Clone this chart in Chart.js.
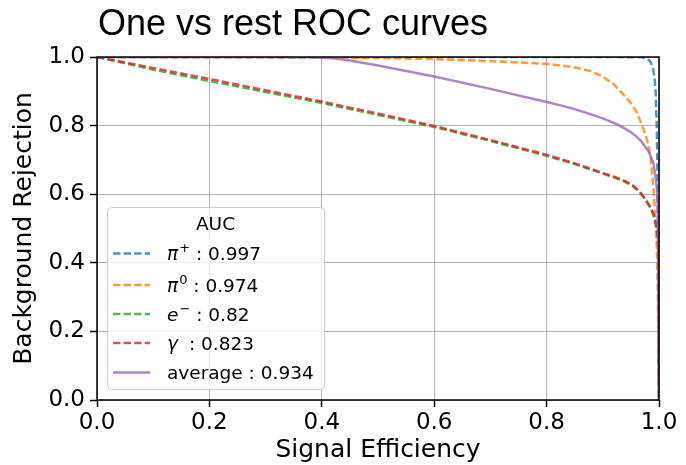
<!DOCTYPE html>
<html>
<head>
<meta charset="utf-8">
<script src="https://cdn.jsdelivr.net/npm/chart.js@4.4.1/dist/chart.umd.min.js"></script>
<style>
  body { margin: 0; background: #fff; }
  canvas { display: block; }
</style>
</head>
<body>
<canvas id="rocChart" width="686" height="465"></canvas>
<script>
// values
const chartTitle = 'One vs rest ROC curves';
const xTitle = 'Signal Efficiency';
const yTitle = 'Background Rejection';
const tickValues = [0, 0.2, 0.4, 0.6, 0.8, 1.0];

const piPlusX = [0, 0.5, 0.9, 0.97, 0.98, 0.985, 0.989, 0.992, 0.994, 0.996, 0.997, 0.998, 0.999, 1.0];
const piPlusY = [1, 1, 1, 0.999, 0.995, 0.985, 0.97, 0.94, 0.90, 0.80, 0.70, 0.50, 0.25, 0];

const piZeroX = [0, 0.3, 0.44, 0.5, 0.6, 0.7, 0.8, 0.85, 0.88, 0.9, 0.92, 0.94, 0.95, 0.96, 0.97, 0.975, 0.98, 0.985, 0.99, 0.993, 0.996, 0.998, 1.0];
const piZeroY = [1, 0.999, 0.998, 0.997, 0.994, 0.988, 0.980, 0.970, 0.958, 0.943, 0.92, 0.885, 0.865, 0.84, 0.80, 0.778, 0.75, 0.71, 0.62, 0.55, 0.45, 0.30, 0];

const electronX = [0, 0.1, 0.2, 0.3, 0.4, 0.5, 0.6, 0.7, 0.8, 0.85, 0.9, 0.92, 0.94, 0.955, 0.966, 0.975, 0.984, 0.99, 0.995, 0.998, 0.9995, 1.0];
const electronY = [1, 0.963, 0.930, 0.898, 0.866, 0.831, 0.796, 0.755, 0.712, 0.688, 0.660, 0.649, 0.636, 0.622, 0.605, 0.586, 0.562, 0.541, 0.508, 0.474, 0.40, 0];

const gammaX = [0, 0.1, 0.2, 0.3, 0.4, 0.5, 0.6, 0.7, 0.8, 0.85, 0.9, 0.92, 0.94, 0.955, 0.966, 0.975, 0.984, 0.99, 0.995, 0.998, 0.9995, 1.0];
const gammaY = [1, 0.968, 0.936, 0.903, 0.870, 0.835, 0.799, 0.758, 0.715, 0.690, 0.662, 0.651, 0.638, 0.624, 0.607, 0.588, 0.564, 0.543, 0.510, 0.476, 0.40, 0];

const averageX = [0, 0.3, 0.38, 0.42, 0.45, 0.5, 0.55, 0.6, 0.7, 0.8, 0.825, 0.85, 0.875, 0.9, 0.925, 0.95, 0.96, 0.97, 0.98, 0.985, 0.99, 0.994, 0.996, 0.998, 0.999, 1.0];
const averageY = [1, 1, 0.999, 0.996, 0.990, 0.975, 0.959, 0.943, 0.907, 0.869, 0.859, 0.848, 0.835, 0.821, 0.804, 0.781, 0.768, 0.751, 0.728, 0.712, 0.69, 0.65, 0.62, 0.56, 0.45, 0];

const legendSymbols = ['\u03c0', '\u03c0', 'e', '\u03b3', ''];
const legendSups = ['+', '0', '\u2212', ' ', ''];
const legendNames = ['', '', '', '', 'average'];
const aucValues = ['0.997', '0.974', '0.82', '0.823', '0.934'];

const colors = ['rgba(31,119,180,0.8)', 'rgba(255,127,14,0.8)', 'rgba(44,160,44,0.8)', 'rgba(214,39,40,0.8)', 'rgba(148,103,189,0.8)'];
const dashes = [[7.4, 3.2], [7.4, 3.2], [7.4, 3.2], [7.4, 3.2], []];

function toPoints(xs, ys) {
  return xs.map((x, i) => ({ x: x, y: ys[i] }));
}

const seriesData = [
  toPoints(piPlusX, piPlusY),
  toPoints(piZeroX, piZeroY),
  toPoints(electronX, electronY),
  toPoints(gammaX, gammaY),
  toPoints(averageX, averageY)
];
const drawOrder = [4, 3, 2, 1, 0];

const datasets = seriesData.map((pts, i) => ({
  label: (legendNames[i] || legendSymbols[i] + legendSups[i]) + ' : ' + aucValues[i],
  data: pts,
  borderColor: colors[i],
  backgroundColor: colors[i],
  borderWidth: 2.5,
  borderDash: dashes[i],
  pointRadius: 0,
  tension: 0,
  fill: false,
  order: drawOrder[i]
}));

// title, the four spines and the in-plot legend, like matplotlib does it
const extras = {
  id: 'extras',
  afterDatasetsDraw(chart) {
    const ctx = chart.ctx;
    const a = chart.chartArea;
    ctx.save();
    ctx.strokeStyle = '#000';
    ctx.lineWidth = 1.5;
    ctx.strokeRect(a.left, a.top, a.right - a.left, a.bottom - a.top);
    ctx.restore();
  },
  afterDraw(chart) {
    const ctx = chart.ctx;
    const a = chart.chartArea;
    ctx.save();
    ctx.fillStyle = '#000';
    ctx.font = '36px "Liberation Sans", Arial, sans-serif';
    ctx.textBaseline = 'alphabetic';
    ctx.textAlign = 'left';
    ctx.fillText(chartTitle, a.left + 1, 35);

    // legend box
    const bx = 107, by = 207, bw = 217, bh = 182;
    ctx.beginPath();
    ctx.roundRect(bx + 0.5, by + 0.5, bw, bh, 4);
    ctx.fillStyle = 'rgba(255,255,255,0.8)';
    ctx.fill();
    ctx.strokeStyle = '#cccccc';
    ctx.lineWidth = 1;
    ctx.stroke();

    const fam = '"DejaVu Sans", sans-serif';
    ctx.fillStyle = '#000';
    ctx.font = '18.5px ' + fam;
    ctx.textAlign = 'center';
    ctx.fillText('AUC', bx + bw / 2, 230);
    ctx.textAlign = 'left';

    const rowY = [253.5, 285, 314, 343, 372.5];
    for (let i = 0; i < datasets.length; i++) {
      const y = rowY[i];
      ctx.strokeStyle = colors[i];
      ctx.lineWidth = 2.5;
      ctx.setLineDash(dashes[i]);
      ctx.beginPath();
      ctx.moveTo(113, y);
      ctx.lineTo(150, y);
      ctx.stroke();
      ctx.setLineDash([]);

      let x = 167;
      const base = y + 6.7;
      ctx.fillStyle = '#000';
      if (legendNames[i]) {
        ctx.font = '18.5px ' + fam;
        ctx.fillText(legendNames[i], x, base);
        x += ctx.measureText(legendNames[i]).width;
      } else {
        ctx.font = 'italic 18.5px ' + fam;
        ctx.fillText(legendSymbols[i], x, base);
        x += ctx.measureText(legendSymbols[i]).width + 1;
        ctx.font = '13px ' + fam;
        ctx.fillText(legendSups[i], x, base - 8);
        x += ctx.measureText(legendSups[i]).width;
      }
      ctx.font = '18.5px ' + fam;
      ctx.fillText(' : ' + aucValues[i], x, base);
    }
    ctx.restore();
  }
};

const tickFont = { family: 'DejaVu Sans', size: 23 };

new Chart(document.getElementById('rocChart'), {
  type: 'line',
  data: { datasets: datasets },
  options: {
    responsive: false,
    animation: false,
    devicePixelRatio: 1,
    layout: { padding: { top: 57, right: 27, bottom: 0, left: 0 } },
    plugins: {
      legend: { display: false },
      tooltip: { enabled: false },
      title: { display: false }
    },
    scales: {
      x: {
        type: 'linear',
        min: 0,
        max: 1,
        afterBuildTicks: (scale) => { scale.ticks = tickValues.map(v => ({ value: v })); },
        afterFit: (scale) => { scale.height = 65; },
        border: { display: false },
        grid: { color: '#b0b0b0', lineWidth: 1, tickColor: '#000', tickLength: 7, tickWidth: 1.5 },
        ticks: { color: '#000', font: tickFont, padding: 2, maxRotation: 0, callback: (v) => Number(v).toFixed(1) },
        title: { display: true, text: xTitle, color: '#000', font: { family: 'DejaVu Sans', size: 25 }, padding: { top: 2, bottom: 0 } }
      },
      y: {
        type: 'linear',
        min: 0,
        max: 1,
        afterBuildTicks: (scale) => { scale.ticks = tickValues.map(v => ({ value: v })); },
        afterFit: (scale) => { scale.width = 97; },
        border: { display: false },
        grid: { color: '#b0b0b0', lineWidth: 1, tickColor: '#000', tickLength: 7, tickWidth: 1.5 },
        ticks: { color: '#000', font: tickFont, padding: 5, callback: (v) => Number(v).toFixed(1) },
        title: { display: true, text: yTitle, color: '#000', font: { family: 'DejaVu Sans', size: 25 }, padding: { top: 9, bottom: 0 } }
      }
    }
  },
  plugins: [extras]
});
</script>
</body>
</html>
